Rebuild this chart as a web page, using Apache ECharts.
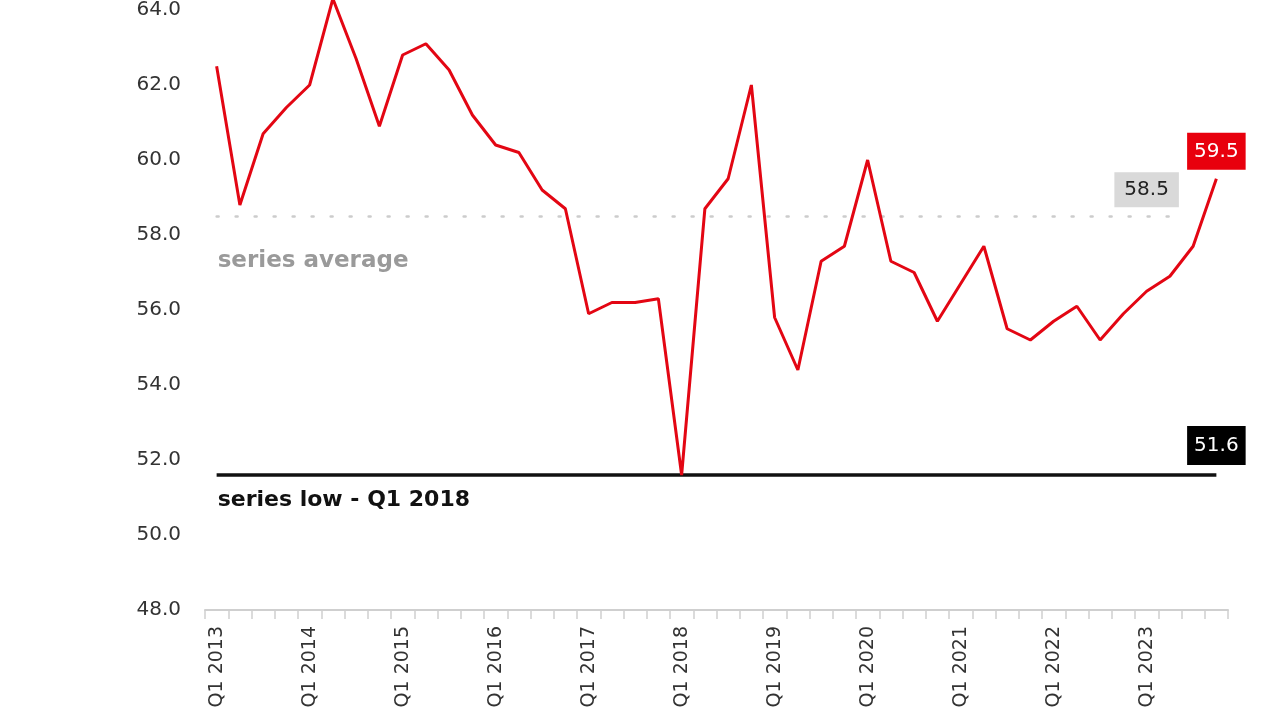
<!DOCTYPE html>
<html>
<head>
<meta charset="utf-8">
<script src="https://cdn.jsdelivr.net/npm/echarts@6/dist/echarts.min.js"></script>
<style>
  html, body { margin: 0; padding: 0; background: #ffffff; }
  #chart { width: 1280px; height: 722px; }
</style>
</head>
<body>
<div id="chart"></div>
<script>
// ---- data ----
const years = [2013, 2014, 2015, 2016, 2017, 2018, 2019, 2020, 2021, 2022, 2023];
const quarters = ['Q1', 'Q2', 'Q3', 'Q4'];
const categories = [];
years.forEach(y => quarters.forEach(q => categories.push(q + ' ' + y)));

const values = [
  62.5, 58.8, 60.7, 61.4,   // 2013
  62.0, 64.3, 62.7, 60.9,   // 2014
  62.8, 63.1, 62.4, 61.2,   // 2015
  60.4, 60.2, 59.2, 58.7,   // 2016
  55.9, 56.2, 56.2, 56.3,   // 2017
  51.6, 58.7, 59.5, 62.0,   // 2018
  55.8, 54.4, 57.3, 57.7,   // 2019
  60.0, 57.3, 57.0, 55.7,   // 2020
  56.7, 57.7, 55.5, 55.2,   // 2021
  55.7, 56.1, 55.2, 55.9,   // 2022
  56.5, 56.9, 57.7, 59.5    // 2023
];

const seriesAverage = 58.5;
const seriesLow = 51.6;
const seriesLowLabel = 'series low - Q1 2018';
const averageLabel = 'series average';
const yTicks = [48, 50, 52, 54, 56, 58, 60, 62, 64];

const lastIdx = values.length - 1;
const avgLabelIdx = lastIdx - 3;
const avgLineEndIdx = lastIdx - 2;

const FONT = 'DejaVu Sans';

const chart = echarts.init(document.getElementById('chart'), null, { renderer: 'canvas' });

chart.setOption({
  animation: false,
  backgroundColor: '#ffffff',
  grid: { left: 205, right: 52, top: 8, bottom: 112, containLabel: false },
  xAxis: {
    type: 'category',
    data: categories,
    boundaryGap: true,
    axisLine: { show: true, lineStyle: { color: '#cfcfcf', width: 2 } },
    axisTick: { show: true, interval: 0, length: 9, lineStyle: { color: '#cfcfcf', width: 1.5 } },
    axisLabel: {
      interval: 3,
      rotate: 90,
      margin: 16,
      color: '#333333',
      fontFamily: FONT,
      fontSize: 19
    },
    splitLine: { show: false }
  },
  yAxis: {
    type: 'value',
    min: yTicks[0],
    max: yTicks[yTicks.length - 1],
    interval: 2,
    axisLine: { show: false },
    axisTick: { show: false },
    splitLine: { show: false },
    axisLabel: {
      margin: 24,
      color: '#333333',
      fontFamily: FONT,
      fontSize: 20,
      formatter: v => v.toFixed(1)
    }
  },
  series: [
    {
      type: 'line',
      data: values,
      clip: false,
      symbol: 'none',
      z: 5,
      lineStyle: { color: '#e30613', width: 3 },
      markLine: {
        silent: true,
        symbol: ['none', 'none'],
        label: { show: false },
        data: [
          [
            {
              coord: [0, seriesAverage],
              lineStyle: { color: '#cccccc', width: 2.5, type: [2, 17], cap: 'round' }
            },
            { coord: [avgLineEndIdx, seriesAverage] }
          ],
          [
            {
              coord: [0, seriesLow],
              lineStyle: { color: '#111111', width: 3.5, type: 'solid' }
            },
            { coord: [lastIdx, seriesLow] }
          ]
        ]
      },
      markPoint: {
        silent: true,
        symbol: 'circle',
        symbolSize: 0,
        data: [
          {
            coord: [0, seriesAverage],
            value: seriesAverage,
            label: {
              show: true,
              position: [1, 33],
              align: 'left',
              verticalAlign: 'top',
              formatter: averageLabel,
              color: '#9a9a9a',
              fontFamily: FONT,
              fontWeight: 'bold',
              fontSize: 23
            }
          },
          {
            coord: [0, seriesLow],
            value: seriesLow,
            label: {
              show: true,
              position: [1, 14],
              align: 'left',
              verticalAlign: 'top',
              formatter: seriesLowLabel,
              color: '#111111',
              fontFamily: FONT,
              fontWeight: 'bold',
              fontSize: 22
            }
          },
          {
            coord: [lastIdx, values[lastIdx]],
            value: values[lastIdx],
            label: {
              show: true,
              position: 'top',
              distance: 9,
              formatter: p => p.value.toFixed(1),
              color: '#ffffff',
              backgroundColor: '#e8000d',
              padding: [9, 7, 8, 7],
              fontFamily: FONT,
              fontSize: 20
            }
          },
          {
            coord: [avgLabelIdx, seriesAverage],
            value: seriesAverage,
            label: {
              show: true,
              position: 'top',
              distance: 9,
              formatter: p => p.value.toFixed(1),
              color: '#222222',
              backgroundColor: '#d9d9d9',
              padding: [8, 10, 7, 10],
              fontFamily: FONT,
              fontSize: 20
            }
          },
          {
            coord: [lastIdx, seriesLow],
            value: seriesLow,
            label: {
              show: true,
              position: 'top',
              distance: 10,
              formatter: p => p.value.toFixed(1),
              color: '#ffffff',
              backgroundColor: '#000000',
              padding: [10, 7, 9, 7],
              fontFamily: FONT,
              fontSize: 20
            }
          }
        ]
      }
    }
  ]
});
</script>
</body>
</html>
